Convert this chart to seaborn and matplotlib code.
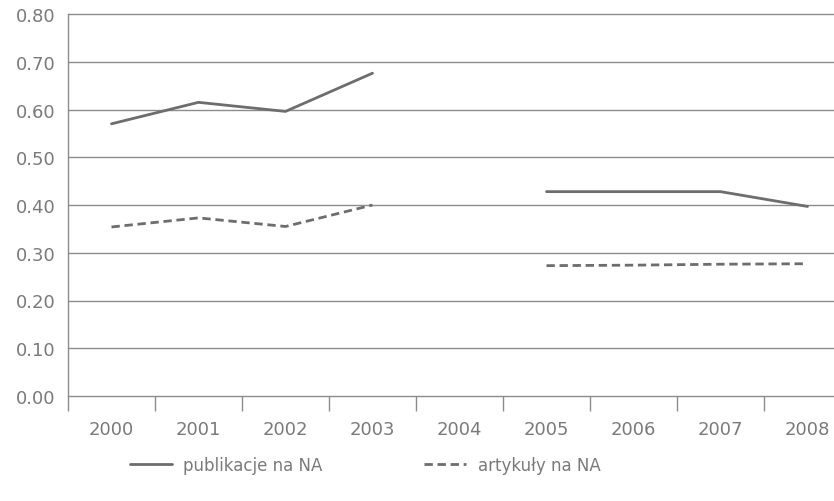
"""NA indicators 2000-2008, line chart"""
import numpy as np
import pandas as pd
import matplotlib
matplotlib.use("Agg")
import matplotlib.pyplot as plt
import seaborn as sns
from matplotlib.lines import Line2D

years = ["2000", "2001", "2002", "2003", "2004", "2005", "2006", "2007", "2008"]
publikacje = [0.570, 0.615, 0.596, 0.676, np.nan, 0.428, 0.428, 0.428, 0.397]
artykuly = [0.354, 0.373, 0.355, 0.400, np.nan, 0.273, 0.274, 0.276, 0.277]
series_names = ["publikacje na NA", "artykuły na NA"]
y_ticks = [0.0, 0.1, 0.2, 0.3, 0.4, 0.5, 0.6, 0.7, 0.8]

GREY = "#6d6d6d"
TEXT = "#7a7a7a"
GRID = "#8c8c8c"

sns.set_style("white")
plt.rcParams["font.family"] = ["DejaVu Sans"]

# long table, one segment id per unbroken run so gaps stay gaps
rows = []
for name, vals in zip(series_names, [publikacje, artykuly]):
    seg = 0
    for i, v in enumerate(vals):
        if np.isnan(v):
            seg += 1
            continue
        rows.append({"pos": i, "value": v, "series": name, "segment": f"{name}_{seg}"})
df = pd.DataFrame(rows)

fig = plt.figure(figsize=(8.34, 5.02), dpi=100)
ax = fig.add_axes([68 / 834, 1 - 397 / 502, 783 / 834, 382 / 502])

sns.lineplot(data=df, x="pos", y="value", style="series", units="segment",
             estimator=None, color=GREY, linewidth=2.0, ax=ax, legend=False,
             dashes={series_names[0]: "", series_names[1]: (3.0, 1.7)},
             style_order=series_names)

ax.set_xlim(-0.5, len(years) - 0.5)
ax.set_ylim(0, 0.8)
ax.set_yticks(y_ticks)
ax.set_yticklabels([f"{t:.2f}" for t in y_ticks])
ax.set_xticks(range(len(years)))
ax.set_xticklabels(years)
ax.set_xticks(np.arange(-0.5, len(years), 1.0), minor=True)
ax.set_xlabel("")
ax.set_ylabel("")

for t in y_ticks:
    ax.axhline(t, color=GRID, linewidth=1.0, zorder=0, clip_on=False)

for side in ["top", "right", "bottom"]:
    ax.spines[side].set_visible(False)
ax.spines["left"].set_color(GRID)
ax.spines["left"].set_linewidth(1.0)

ax.tick_params(axis="x", which="major", length=0, pad=17, labelsize=13, labelcolor=TEXT)
ax.tick_params(axis="x", which="minor", length=11, width=1.0, color=GRID, direction="out")
ax.tick_params(axis="y", length=0, pad=9, labelsize=13, labelcolor=TEXT)
ax.xaxis.set_ticks_position("bottom")

handles = [Line2D([], [], color=GREY, linewidth=2.0),
           Line2D([], [], color=GREY, linewidth=2.0, dashes=(3.0, 1.7))]
fig.legend(handles, series_names, loc="center left", bbox_to_anchor=(115 / 834, 1 - 466 / 502),
           ncol=2, frameon=False, fontsize=12, labelcolor=TEXT, handlelength=2.5,
           handletextpad=0.7, columnspacing=6.1)

fig.savefig("out.png", dpi=100)
